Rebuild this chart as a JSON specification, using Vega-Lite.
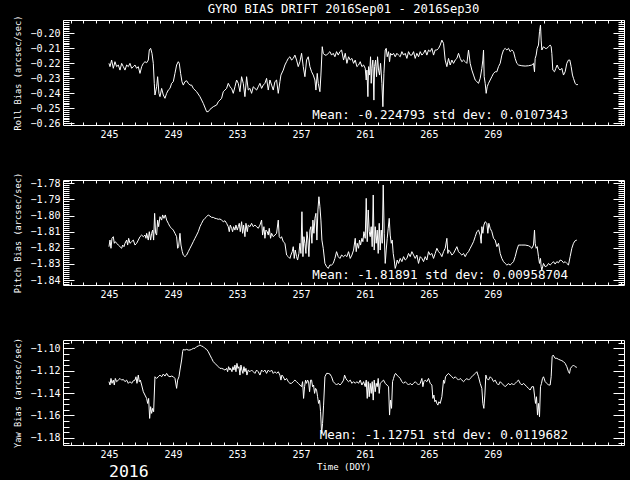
{
"$schema":"https://vega.github.io/schema/vega-lite/v6.json",
"background":"black",
"padding":{"left":13,"top":2,"right":5,"bottom":0},
"config":{
"view":{"stroke":"white","strokeWidth":1,"fill":"black"},
"axis":{"domain":false,"grid":false,"tickColor":"white","tickWidth":1,"labelColor":"white","labelFont":"DejaVu Sans Mono","labelFontSize":10,"titleColor":"white","titleFont":"DejaVu Sans Mono","titleFontSize":8.7,"titleFontWeight":"normal","labelFlush":false,"labelOverlap":false},
"title":{"color":"white","font":"DejaVu Sans Mono","fontSize":12.2,"fontWeight":"normal"},
"text":{"color":"white","font":"DejaVu Sans Mono"},
"line":{"color":"white","strokeWidth":1}
},
"datasets":{
"roll":[{"t":245.0,"v":-0.2201},{"t":245.063,"v":-0.2223},{"t":245.167,"v":-0.2179},{"t":245.271,"v":-0.2234},{"t":245.375,"v":-0.219},{"t":245.479,"v":-0.2223},{"t":245.583,"v":-0.2212},{"t":245.688,"v":-0.2246},{"t":245.792,"v":-0.2201},{"t":245.896,"v":-0.2223},{"t":246.0,"v":-0.2246},{"t":246.104,"v":-0.2212},{"t":246.208,"v":-0.2223},{"t":246.313,"v":-0.2201},{"t":246.417,"v":-0.2234},{"t":246.521,"v":-0.2223},{"t":246.625,"v":-0.2212},{"t":246.729,"v":-0.2234},{"t":246.833,"v":-0.2223},{"t":246.938,"v":-0.2268},{"t":247.042,"v":-0.2223},{"t":247.146,"v":-0.2201},{"t":247.25,"v":-0.219},{"t":247.354,"v":-0.2197},{"t":247.458,"v":-0.2179},{"t":247.521,"v":-0.2112},{"t":247.604,"v":-0.2101},{"t":247.688,"v":-0.2134},{"t":247.771,"v":-0.2201},{"t":247.833,"v":-0.2334},{"t":247.875,"v":-0.2412},{"t":247.979,"v":-0.2357},{"t":248.042,"v":-0.229},{"t":248.125,"v":-0.2401},{"t":248.188,"v":-0.2423},{"t":248.292,"v":-0.2368},{"t":248.396,"v":-0.2412},{"t":248.5,"v":-0.2434},{"t":248.604,"v":-0.2401},{"t":248.708,"v":-0.2379},{"t":248.813,"v":-0.2368},{"t":248.917,"v":-0.2334},{"t":249.021,"v":-0.2323},{"t":249.125,"v":-0.2268},{"t":249.229,"v":-0.2212},{"t":249.333,"v":-0.219},{"t":249.396,"v":-0.2201},{"t":249.479,"v":-0.2268},{"t":249.563,"v":-0.2323},{"t":249.646,"v":-0.2346},{"t":249.75,"v":-0.2323},{"t":249.854,"v":-0.2317},{"t":249.958,"v":-0.2334},{"t":250.063,"v":-0.2346},{"t":250.167,"v":-0.2346},{"t":250.271,"v":-0.2368},{"t":250.479,"v":-0.239},{"t":250.688,"v":-0.2423},{"t":250.896,"v":-0.2468},{"t":251.104,"v":-0.2523},{"t":251.208,"v":-0.2523},{"t":251.313,"v":-0.2508},{"t":251.521,"v":-0.249},{"t":251.729,"v":-0.2479},{"t":251.833,"v":-0.2457},{"t":251.938,"v":-0.2446},{"t":252.042,"v":-0.2434},{"t":252.146,"v":-0.239},{"t":252.25,"v":-0.2379},{"t":252.354,"v":-0.2368},{"t":252.458,"v":-0.2334},{"t":252.563,"v":-0.2357},{"t":252.667,"v":-0.2368},{"t":252.771,"v":-0.2401},{"t":252.875,"v":-0.2357},{"t":252.979,"v":-0.2312},{"t":253.083,"v":-0.2334},{"t":253.188,"v":-0.239},{"t":253.292,"v":-0.229},{"t":253.396,"v":-0.2334},{"t":253.5,"v":-0.2423},{"t":253.604,"v":-0.229},{"t":253.708,"v":-0.2379},{"t":253.813,"v":-0.2368},{"t":253.917,"v":-0.2401},{"t":254.021,"v":-0.2357},{"t":254.125,"v":-0.2368},{"t":254.229,"v":-0.2379},{"t":254.333,"v":-0.2357},{"t":254.438,"v":-0.2334},{"t":254.542,"v":-0.2368},{"t":254.646,"v":-0.2346},{"t":254.75,"v":-0.2334},{"t":254.854,"v":-0.2301},{"t":254.958,"v":-0.2379},{"t":255.063,"v":-0.2312},{"t":255.167,"v":-0.2346},{"t":255.271,"v":-0.2379},{"t":255.375,"v":-0.2323},{"t":255.479,"v":-0.2312},{"t":255.583,"v":-0.2401},{"t":255.688,"v":-0.2323},{"t":255.75,"v":-0.2279},{"t":255.896,"v":-0.2246},{"t":256.0,"v":-0.2212},{"t":256.104,"v":-0.219},{"t":256.208,"v":-0.2168},{"t":256.313,"v":-0.2157},{"t":256.417,"v":-0.2179},{"t":256.521,"v":-0.2168},{"t":256.625,"v":-0.2146},{"t":256.729,"v":-0.2179},{"t":256.833,"v":-0.2223},{"t":256.938,"v":-0.219},{"t":257.042,"v":-0.2134},{"t":257.146,"v":-0.2223},{"t":257.25,"v":-0.229},{"t":257.354,"v":-0.2179},{"t":257.458,"v":-0.2157},{"t":257.563,"v":-0.2223},{"t":257.667,"v":-0.2257},{"t":257.771,"v":-0.2279},{"t":257.875,"v":-0.2312},{"t":257.938,"v":-0.2379},{"t":258.021,"v":-0.2268},{"t":258.083,"v":-0.2334},{"t":258.188,"v":-0.239},{"t":258.25,"v":-0.2279},{"t":258.333,"v":-0.209},{"t":258.396,"v":-0.2134},{"t":258.5,"v":-0.2146},{"t":258.604,"v":-0.2146},{"t":258.708,"v":-0.2134},{"t":258.813,"v":-0.2123},{"t":258.917,"v":-0.2146},{"t":259.021,"v":-0.2134},{"t":259.125,"v":-0.2157},{"t":259.229,"v":-0.2123},{"t":259.333,"v":-0.2146},{"t":259.438,"v":-0.2123},{"t":259.542,"v":-0.2112},{"t":259.667,"v":-0.2179},{"t":259.771,"v":-0.2134},{"t":259.875,"v":-0.2201},{"t":259.979,"v":-0.2157},{"t":260.083,"v":-0.2179},{"t":260.188,"v":-0.2168},{"t":260.292,"v":-0.2201},{"t":260.396,"v":-0.2179},{"t":260.5,"v":-0.2223},{"t":260.604,"v":-0.2212},{"t":260.708,"v":-0.219},{"t":260.813,"v":-0.2223},{"t":260.917,"v":-0.2212},{"t":261.021,"v":-0.2234},{"t":261.083,"v":-0.2312},{"t":261.125,"v":-0.2246},{"t":261.188,"v":-0.2423},{"t":261.229,"v":-0.2223},{"t":261.292,"v":-0.2279},{"t":261.354,"v":-0.2157},{"t":261.396,"v":-0.2334},{"t":261.438,"v":-0.2234},{"t":261.5,"v":-0.2179},{"t":261.563,"v":-0.2446},{"t":261.604,"v":-0.2223},{"t":261.667,"v":-0.2179},{"t":261.729,"v":-0.229},{"t":261.792,"v":-0.2157},{"t":261.854,"v":-0.2246},{"t":261.917,"v":-0.2279},{"t":261.979,"v":-0.2201},{"t":262.063,"v":-0.2334},{"t":262.125,"v":-0.249},{"t":262.188,"v":-0.2268},{"t":262.271,"v":-0.2112},{"t":262.333,"v":-0.2101},{"t":262.396,"v":-0.2157},{"t":262.479,"v":-0.2123},{"t":262.542,"v":-0.219},{"t":262.604,"v":-0.2134},{"t":262.688,"v":-0.2146},{"t":262.792,"v":-0.2134},{"t":262.896,"v":-0.2157},{"t":263.0,"v":-0.2134},{"t":263.104,"v":-0.2146},{"t":263.208,"v":-0.2157},{"t":263.313,"v":-0.2123},{"t":263.417,"v":-0.2146},{"t":263.521,"v":-0.2134},{"t":263.625,"v":-0.2168},{"t":263.729,"v":-0.2123},{"t":263.833,"v":-0.2146},{"t":263.938,"v":-0.2146},{"t":264.042,"v":-0.2123},{"t":264.146,"v":-0.2168},{"t":264.25,"v":-0.2134},{"t":264.354,"v":-0.2157},{"t":264.458,"v":-0.2123},{"t":264.563,"v":-0.2146},{"t":264.667,"v":-0.2134},{"t":264.771,"v":-0.2112},{"t":264.875,"v":-0.2146},{"t":264.979,"v":-0.2112},{"t":265.083,"v":-0.2123},{"t":265.188,"v":-0.2101},{"t":265.292,"v":-0.2146},{"t":265.396,"v":-0.2112},{"t":265.5,"v":-0.2112},{"t":265.604,"v":-0.2101},{"t":265.708,"v":-0.2079},{"t":265.813,"v":-0.2046},{"t":265.917,"v":-0.2068},{"t":266.021,"v":-0.2179},{"t":266.125,"v":-0.2223},{"t":266.229,"v":-0.2168},{"t":266.333,"v":-0.2212},{"t":266.438,"v":-0.2179},{"t":266.542,"v":-0.2201},{"t":266.646,"v":-0.2179},{"t":266.75,"v":-0.2168},{"t":266.854,"v":-0.2134},{"t":266.958,"v":-0.2168},{"t":267.063,"v":-0.219},{"t":267.167,"v":-0.2179},{"t":267.271,"v":-0.219},{"t":267.375,"v":-0.2201},{"t":267.479,"v":-0.2112},{"t":267.583,"v":-0.2201},{"t":267.688,"v":-0.2246},{"t":267.792,"v":-0.2279},{"t":267.896,"v":-0.2312},{"t":268.0,"v":-0.2323},{"t":268.104,"v":-0.2334},{"t":268.208,"v":-0.2301},{"t":268.313,"v":-0.2234},{"t":268.375,"v":-0.2179},{"t":268.417,"v":-0.2112},{"t":268.458,"v":-0.229},{"t":268.521,"v":-0.2334},{"t":268.583,"v":-0.2401},{"t":268.646,"v":-0.2357},{"t":268.729,"v":-0.2334},{"t":268.833,"v":-0.2312},{"t":268.938,"v":-0.229},{"t":269.042,"v":-0.2268},{"t":269.146,"v":-0.2257},{"t":269.25,"v":-0.2257},{"t":269.354,"v":-0.2223},{"t":269.458,"v":-0.2201},{"t":269.563,"v":-0.2146},{"t":269.667,"v":-0.2112},{"t":269.771,"v":-0.2101},{"t":269.875,"v":-0.2112},{"t":269.979,"v":-0.2101},{"t":270.083,"v":-0.2123},{"t":270.188,"v":-0.2112},{"t":270.292,"v":-0.2123},{"t":270.396,"v":-0.2168},{"t":270.5,"v":-0.2201},{"t":270.604,"v":-0.2212},{"t":270.813,"v":-0.2217},{"t":271.021,"v":-0.2219},{"t":271.229,"v":-0.2217},{"t":271.438,"v":-0.2212},{"t":271.542,"v":-0.2201},{"t":271.604,"v":-0.2257},{"t":271.646,"v":-0.2168},{"t":271.708,"v":-0.2146},{"t":271.771,"v":-0.2101},{"t":271.854,"v":-0.2079},{"t":271.917,"v":-0.199},{"t":271.979,"v":-0.1946},{"t":272.021,"v":-0.2046},{"t":272.063,"v":-0.2112},{"t":272.167,"v":-0.209},{"t":272.271,"v":-0.2101},{"t":272.375,"v":-0.2101},{"t":272.479,"v":-0.209},{"t":272.583,"v":-0.2079},{"t":272.646,"v":-0.209},{"t":272.688,"v":-0.2134},{"t":272.75,"v":-0.2246},{"t":272.854,"v":-0.2257},{"t":272.938,"v":-0.2234},{"t":273.021,"v":-0.2212},{"t":273.104,"v":-0.2234},{"t":273.208,"v":-0.2246},{"t":273.313,"v":-0.2234},{"t":273.417,"v":-0.2279},{"t":273.521,"v":-0.2257},{"t":273.625,"v":-0.2201},{"t":273.729,"v":-0.2179},{"t":273.813,"v":-0.2179},{"t":273.896,"v":-0.2223},{"t":273.979,"v":-0.2279},{"t":274.042,"v":-0.2301},{"t":274.146,"v":-0.2334},{"t":274.25,"v":-0.2346},{"t":274.313,"v":-0.2339}],
"pitch":[{"t":245.0,"v":-1.8193},{"t":245.063,"v":-1.8152},{"t":245.125,"v":-1.8203},{"t":245.188,"v":-1.8141},{"t":245.271,"v":-1.8131},{"t":245.333,"v":-1.8172},{"t":245.396,"v":-1.8162},{"t":245.479,"v":-1.8172},{"t":245.583,"v":-1.8183},{"t":245.688,"v":-1.8193},{"t":245.792,"v":-1.8203},{"t":245.854,"v":-1.8183},{"t":245.938,"v":-1.8193},{"t":246.0,"v":-1.8172},{"t":246.104,"v":-1.8152},{"t":246.167,"v":-1.8183},{"t":246.229,"v":-1.8141},{"t":246.313,"v":-1.8172},{"t":246.417,"v":-1.8162},{"t":246.521,"v":-1.8152},{"t":246.625,"v":-1.8183},{"t":246.729,"v":-1.8172},{"t":246.833,"v":-1.8152},{"t":246.938,"v":-1.8131},{"t":247.042,"v":-1.8121},{"t":247.146,"v":-1.8131},{"t":247.25,"v":-1.8121},{"t":247.313,"v":-1.8141},{"t":247.354,"v":-1.811},{"t":247.458,"v":-1.8152},{"t":247.521,"v":-1.81},{"t":247.604,"v":-1.8152},{"t":247.667,"v":-1.811},{"t":247.729,"v":-1.809},{"t":247.792,"v":-1.8152},{"t":247.854,"v":-1.7986},{"t":247.917,"v":-1.811},{"t":247.979,"v":-1.8121},{"t":248.042,"v":-1.8028},{"t":248.104,"v":-1.8069},{"t":248.188,"v":-1.8007},{"t":248.292,"v":-1.8028},{"t":248.354,"v":-1.7996},{"t":248.438,"v":-1.8017},{"t":248.521,"v":-1.7996},{"t":248.604,"v":-1.8028},{"t":248.708,"v":-1.8048},{"t":248.813,"v":-1.8069},{"t":248.917,"v":-1.8079},{"t":249.021,"v":-1.809},{"t":249.125,"v":-1.811},{"t":249.229,"v":-1.8131},{"t":249.292,"v":-1.8203},{"t":249.354,"v":-1.8193},{"t":249.438,"v":-1.811},{"t":249.5,"v":-1.8183},{"t":249.583,"v":-1.8224},{"t":249.646,"v":-1.8245},{"t":249.75,"v":-1.8255},{"t":249.854,"v":-1.8245},{"t":249.958,"v":-1.8224},{"t":250.063,"v":-1.8203},{"t":250.167,"v":-1.8183},{"t":250.271,"v":-1.8162},{"t":250.375,"v":-1.8141},{"t":250.479,"v":-1.8121},{"t":250.583,"v":-1.81},{"t":250.688,"v":-1.8069},{"t":250.792,"v":-1.8048},{"t":250.896,"v":-1.8028},{"t":251.0,"v":-1.8017},{"t":251.104,"v":-1.8007},{"t":251.208,"v":-1.7996},{"t":251.313,"v":-1.8003},{"t":251.417,"v":-1.8011},{"t":251.521,"v":-1.8011},{"t":251.625,"v":-1.8017},{"t":251.729,"v":-1.8019},{"t":251.833,"v":-1.8023},{"t":251.938,"v":-1.8021},{"t":252.042,"v":-1.8028},{"t":252.146,"v":-1.8038},{"t":252.25,"v":-1.8032},{"t":252.354,"v":-1.8048},{"t":252.458,"v":-1.8069},{"t":252.521,"v":-1.81},{"t":252.583,"v":-1.8059},{"t":252.667,"v":-1.8079},{"t":252.729,"v":-1.81},{"t":252.792,"v":-1.8069},{"t":252.875,"v":-1.809},{"t":252.938,"v":-1.8059},{"t":253.021,"v":-1.809},{"t":253.083,"v":-1.8069},{"t":253.146,"v":-1.8048},{"t":253.208,"v":-1.81},{"t":253.292,"v":-1.8038},{"t":253.354,"v":-1.811},{"t":253.417,"v":-1.8059},{"t":253.5,"v":-1.8131},{"t":253.563,"v":-1.8048},{"t":253.646,"v":-1.81},{"t":253.708,"v":-1.8059},{"t":253.813,"v":-1.8069},{"t":253.917,"v":-1.8048},{"t":254.021,"v":-1.8069},{"t":254.125,"v":-1.8059},{"t":254.229,"v":-1.8069},{"t":254.333,"v":-1.8079},{"t":254.438,"v":-1.8059},{"t":254.542,"v":-1.8028},{"t":254.604,"v":-1.8121},{"t":254.688,"v":-1.8069},{"t":254.75,"v":-1.8141},{"t":254.813,"v":-1.809},{"t":254.896,"v":-1.81},{"t":254.958,"v":-1.8121},{"t":255.021,"v":-1.8079},{"t":255.104,"v":-1.8141},{"t":255.167,"v":-1.811},{"t":255.271,"v":-1.8131},{"t":255.375,"v":-1.8121},{"t":255.479,"v":-1.811},{"t":255.583,"v":-1.8028},{"t":255.646,"v":-1.8131},{"t":255.729,"v":-1.8141},{"t":255.792,"v":-1.8131},{"t":255.896,"v":-1.8162},{"t":256.0,"v":-1.8172},{"t":256.104,"v":-1.8245},{"t":256.208,"v":-1.8255},{"t":256.313,"v":-1.8266},{"t":256.375,"v":-1.8245},{"t":256.458,"v":-1.8224},{"t":256.521,"v":-1.8193},{"t":256.583,"v":-1.8266},{"t":256.646,"v":-1.8214},{"t":256.729,"v":-1.8255},{"t":256.792,"v":-1.8276},{"t":256.875,"v":-1.8235},{"t":256.938,"v":-1.8172},{"t":257.0,"v":-1.8235},{"t":257.063,"v":-1.7976},{"t":257.125,"v":-1.8255},{"t":257.188,"v":-1.8131},{"t":257.25,"v":-1.8172},{"t":257.313,"v":-1.8235},{"t":257.375,"v":-1.81},{"t":257.438,"v":-1.8152},{"t":257.5,"v":-1.8255},{"t":257.563,"v":-1.809},{"t":257.625,"v":-1.8069},{"t":257.688,"v":-1.8172},{"t":257.75,"v":-1.8028},{"t":257.813,"v":-1.811},{"t":257.875,"v":-1.8017},{"t":257.938,"v":-1.7986},{"t":258.0,"v":-1.8152},{"t":258.063,"v":-1.7965},{"t":258.125,"v":-1.7883},{"t":258.188,"v":-1.7945},{"t":258.25,"v":-1.8028},{"t":258.313,"v":-1.8152},{"t":258.396,"v":-1.8203},{"t":258.5,"v":-1.8297},{"t":258.604,"v":-1.8317},{"t":258.708,"v":-1.8328},{"t":258.813,"v":-1.8307},{"t":258.917,"v":-1.8307},{"t":259.021,"v":-1.8297},{"t":259.125,"v":-1.8266},{"t":259.229,"v":-1.8224},{"t":259.333,"v":-1.8255},{"t":259.438,"v":-1.8266},{"t":259.542,"v":-1.8245},{"t":259.667,"v":-1.8255},{"t":259.771,"v":-1.8245},{"t":259.875,"v":-1.8255},{"t":259.979,"v":-1.8224},{"t":260.083,"v":-1.8266},{"t":260.188,"v":-1.8245},{"t":260.292,"v":-1.8214},{"t":260.396,"v":-1.8141},{"t":260.458,"v":-1.8224},{"t":260.521,"v":-1.8172},{"t":260.604,"v":-1.8203},{"t":260.667,"v":-1.8152},{"t":260.729,"v":-1.8183},{"t":260.813,"v":-1.8141},{"t":260.875,"v":-1.8162},{"t":260.938,"v":-1.81},{"t":261.021,"v":-1.8141},{"t":261.083,"v":-1.7893},{"t":261.146,"v":-1.8162},{"t":261.208,"v":-1.7965},{"t":261.271,"v":-1.81},{"t":261.333,"v":-1.8131},{"t":261.396,"v":-1.8069},{"t":261.458,"v":-1.8193},{"t":261.521,"v":-1.7872},{"t":261.583,"v":-1.8214},{"t":261.646,"v":-1.8069},{"t":261.708,"v":-1.8172},{"t":261.771,"v":-1.809},{"t":261.833,"v":-1.8235},{"t":261.896,"v":-1.8048},{"t":261.958,"v":-1.8214},{"t":262.021,"v":-1.809},{"t":262.083,"v":-1.8172},{"t":262.146,"v":-1.781},{"t":262.208,"v":-1.811},{"t":262.271,"v":-1.8297},{"t":262.333,"v":-1.8214},{"t":262.396,"v":-1.8141},{"t":262.458,"v":-1.8079},{"t":262.521,"v":-1.8017},{"t":262.583,"v":-1.8121},{"t":262.646,"v":-1.8172},{"t":262.708,"v":-1.8152},{"t":262.771,"v":-1.8235},{"t":262.833,"v":-1.8276},{"t":262.896,"v":-1.8328},{"t":262.958,"v":-1.8307},{"t":263.021,"v":-1.8276},{"t":263.104,"v":-1.8297},{"t":263.208,"v":-1.8266},{"t":263.313,"v":-1.8286},{"t":263.417,"v":-1.8255},{"t":263.521,"v":-1.8276},{"t":263.625,"v":-1.8266},{"t":263.729,"v":-1.8235},{"t":263.833,"v":-1.8255},{"t":263.938,"v":-1.8224},{"t":264.042,"v":-1.8245},{"t":264.146,"v":-1.8266},{"t":264.25,"v":-1.8245},{"t":264.354,"v":-1.8297},{"t":264.458,"v":-1.8255},{"t":264.563,"v":-1.8266},{"t":264.667,"v":-1.8286},{"t":264.771,"v":-1.8255},{"t":264.875,"v":-1.8276},{"t":264.979,"v":-1.8224},{"t":265.083,"v":-1.8245},{"t":265.188,"v":-1.8235},{"t":265.292,"v":-1.8266},{"t":265.396,"v":-1.8235},{"t":265.5,"v":-1.8203},{"t":265.604,"v":-1.8224},{"t":265.708,"v":-1.8235},{"t":265.813,"v":-1.8255},{"t":265.917,"v":-1.8224},{"t":266.021,"v":-1.8203},{"t":266.125,"v":-1.8141},{"t":266.188,"v":-1.8235},{"t":266.229,"v":-1.8214},{"t":266.333,"v":-1.8224},{"t":266.438,"v":-1.8245},{"t":266.542,"v":-1.8235},{"t":266.646,"v":-1.8214},{"t":266.75,"v":-1.8193},{"t":266.854,"v":-1.8224},{"t":266.958,"v":-1.8235},{"t":267.063,"v":-1.8245},{"t":267.167,"v":-1.8235},{"t":267.271,"v":-1.8255},{"t":267.375,"v":-1.8235},{"t":267.479,"v":-1.8224},{"t":267.583,"v":-1.8203},{"t":267.688,"v":-1.8183},{"t":267.792,"v":-1.8162},{"t":267.896,"v":-1.8131},{"t":268.0,"v":-1.81},{"t":268.104,"v":-1.809},{"t":268.208,"v":-1.8121},{"t":268.271,"v":-1.8172},{"t":268.313,"v":-1.8069},{"t":268.375,"v":-1.811},{"t":268.438,"v":-1.8059},{"t":268.521,"v":-1.8038},{"t":268.625,"v":-1.8048},{"t":268.688,"v":-1.811},{"t":268.75,"v":-1.8048},{"t":268.833,"v":-1.8079},{"t":268.938,"v":-1.81},{"t":269.042,"v":-1.8141},{"t":269.146,"v":-1.8152},{"t":269.25,"v":-1.8193},{"t":269.354,"v":-1.8172},{"t":269.458,"v":-1.8235},{"t":269.563,"v":-1.8266},{"t":269.667,"v":-1.8286},{"t":269.771,"v":-1.8297},{"t":269.875,"v":-1.8307},{"t":269.979,"v":-1.8301},{"t":270.083,"v":-1.8307},{"t":270.188,"v":-1.8297},{"t":270.292,"v":-1.8286},{"t":270.396,"v":-1.8255},{"t":270.5,"v":-1.8214},{"t":270.604,"v":-1.8183},{"t":270.813,"v":-1.8183},{"t":271.021,"v":-1.8183},{"t":271.229,"v":-1.8187},{"t":271.333,"v":-1.8193},{"t":271.438,"v":-1.8203},{"t":271.542,"v":-1.8183},{"t":271.604,"v":-1.809},{"t":271.646,"v":-1.8172},{"t":271.708,"v":-1.8203},{"t":271.771,"v":-1.8193},{"t":271.854,"v":-1.8255},{"t":271.917,"v":-1.8297},{"t":271.979,"v":-1.8266},{"t":272.021,"v":-1.8317},{"t":272.063,"v":-1.8338},{"t":272.167,"v":-1.8297},{"t":272.271,"v":-1.8317},{"t":272.375,"v":-1.8313},{"t":272.479,"v":-1.8297},{"t":272.583,"v":-1.8307},{"t":272.688,"v":-1.8297},{"t":272.792,"v":-1.8286},{"t":272.896,"v":-1.8301},{"t":273.0,"v":-1.8286},{"t":273.104,"v":-1.8293},{"t":273.208,"v":-1.8276},{"t":273.313,"v":-1.828},{"t":273.417,"v":-1.8293},{"t":273.521,"v":-1.8286},{"t":273.625,"v":-1.8297},{"t":273.729,"v":-1.8307},{"t":273.833,"v":-1.8255},{"t":273.938,"v":-1.8203},{"t":274.042,"v":-1.8172},{"t":274.146,"v":-1.8156},{"t":274.25,"v":-1.8152}],
"yaw":[{"t":245.0,"v":-1.1298},{"t":245.063,"v":-1.1328},{"t":245.125,"v":-1.1269},{"t":245.188,"v":-1.1313},{"t":245.271,"v":-1.1284},{"t":245.333,"v":-1.1328},{"t":245.396,"v":-1.1269},{"t":245.479,"v":-1.1298},{"t":245.583,"v":-1.1284},{"t":245.688,"v":-1.1269},{"t":245.792,"v":-1.1284},{"t":245.896,"v":-1.1278},{"t":246.0,"v":-1.1298},{"t":246.104,"v":-1.1284},{"t":246.208,"v":-1.1313},{"t":246.313,"v":-1.1298},{"t":246.417,"v":-1.1313},{"t":246.521,"v":-1.129},{"t":246.625,"v":-1.1284},{"t":246.688,"v":-1.1254},{"t":246.75,"v":-1.1313},{"t":246.833,"v":-1.1239},{"t":246.896,"v":-1.1298},{"t":246.958,"v":-1.1284},{"t":247.042,"v":-1.1328},{"t":247.146,"v":-1.1388},{"t":247.25,"v":-1.1418},{"t":247.354,"v":-1.1448},{"t":247.417,"v":-1.1493},{"t":247.479,"v":-1.1448},{"t":247.542,"v":-1.1627},{"t":247.604,"v":-1.1522},{"t":247.667,"v":-1.1582},{"t":247.729,"v":-1.1537},{"t":247.792,"v":-1.1567},{"t":247.875,"v":-1.1254},{"t":247.979,"v":-1.1269},{"t":248.083,"v":-1.1254},{"t":248.188,"v":-1.1239},{"t":248.292,"v":-1.1254},{"t":248.396,"v":-1.123},{"t":248.5,"v":-1.1248},{"t":248.604,"v":-1.1224},{"t":248.708,"v":-1.1248},{"t":248.813,"v":-1.1254},{"t":248.917,"v":-1.1248},{"t":249.021,"v":-1.1254},{"t":249.125,"v":-1.1269},{"t":249.229,"v":-1.1358},{"t":249.292,"v":-1.1284},{"t":249.375,"v":-1.1254},{"t":249.438,"v":-1.1194},{"t":249.542,"v":-1.1104},{"t":249.604,"v":-1.103},{"t":249.646,"v":-1.1009},{"t":249.75,"v":-1.1015},{"t":249.854,"v":-1.1009},{"t":249.958,"v":-1.1015},{"t":250.063,"v":-1.1015},{"t":250.167,"v":-1.1009},{"t":250.271,"v":-1.1},{"t":250.375,"v":-1.1},{"t":250.479,"v":-1.0985},{"t":250.583,"v":-1.0979},{"t":250.688,"v":-1.097},{"t":250.792,"v":-1.0979},{"t":250.896,"v":-1.0985},{"t":251.0,"v":-1.1},{"t":251.104,"v":-1.1009},{"t":251.208,"v":-1.103},{"t":251.313,"v":-1.106},{"t":251.417,"v":-1.1089},{"t":251.521,"v":-1.1119},{"t":251.625,"v":-1.1134},{"t":251.729,"v":-1.1149},{"t":251.833,"v":-1.1164},{"t":251.938,"v":-1.1179},{"t":252.042,"v":-1.1179},{"t":252.146,"v":-1.1185},{"t":252.25,"v":-1.1194},{"t":252.354,"v":-1.1179},{"t":252.417,"v":-1.1209},{"t":252.479,"v":-1.1164},{"t":252.563,"v":-1.1194},{"t":252.604,"v":-1.1179},{"t":252.688,"v":-1.1209},{"t":252.75,"v":-1.1164},{"t":252.813,"v":-1.1194},{"t":252.875,"v":-1.1149},{"t":252.938,"v":-1.1209},{"t":253.0,"v":-1.1134},{"t":253.063,"v":-1.1179},{"t":253.125,"v":-1.1164},{"t":253.188,"v":-1.1239},{"t":253.25,"v":-1.1149},{"t":253.313,"v":-1.1194},{"t":253.375,"v":-1.1224},{"t":253.438,"v":-1.1164},{"t":253.5,"v":-1.1209},{"t":253.563,"v":-1.1179},{"t":253.625,"v":-1.1239},{"t":253.708,"v":-1.1194},{"t":253.813,"v":-1.1209},{"t":253.917,"v":-1.1194},{"t":254.021,"v":-1.1209},{"t":254.125,"v":-1.1224},{"t":254.229,"v":-1.1194},{"t":254.333,"v":-1.1209},{"t":254.438,"v":-1.1239},{"t":254.542,"v":-1.1194},{"t":254.646,"v":-1.1209},{"t":254.75,"v":-1.1194},{"t":254.854,"v":-1.1224},{"t":254.958,"v":-1.1194},{"t":255.063,"v":-1.1209},{"t":255.167,"v":-1.1194},{"t":255.271,"v":-1.1224},{"t":255.375,"v":-1.1209},{"t":255.479,"v":-1.1224},{"t":255.583,"v":-1.1209},{"t":255.688,"v":-1.1239},{"t":255.75,"v":-1.1284},{"t":255.813,"v":-1.1239},{"t":255.896,"v":-1.1254},{"t":256.0,"v":-1.1284},{"t":256.104,"v":-1.1269},{"t":256.208,"v":-1.1298},{"t":256.313,"v":-1.1313},{"t":256.417,"v":-1.1313},{"t":256.521,"v":-1.1298},{"t":256.625,"v":-1.1284},{"t":256.729,"v":-1.1298},{"t":256.833,"v":-1.1313},{"t":256.938,"v":-1.1328},{"t":257.042,"v":-1.1343},{"t":257.104,"v":-1.1298},{"t":257.167,"v":-1.1448},{"t":257.229,"v":-1.1343},{"t":257.292,"v":-1.1284},{"t":257.354,"v":-1.1313},{"t":257.417,"v":-1.1284},{"t":257.479,"v":-1.1298},{"t":257.542,"v":-1.1388},{"t":257.604,"v":-1.1284},{"t":257.667,"v":-1.1284},{"t":257.729,"v":-1.1343},{"t":257.792,"v":-1.1328},{"t":257.854,"v":-1.1403},{"t":257.917,"v":-1.1358},{"t":257.979,"v":-1.1373},{"t":258.042,"v":-1.1433},{"t":258.104,"v":-1.1493},{"t":258.167,"v":-1.1463},{"t":258.229,"v":-1.1567},{"t":258.292,"v":-1.1762},{"t":258.354,"v":-1.1672},{"t":258.417,"v":-1.1508},{"t":258.5,"v":-1.1254},{"t":258.604,"v":-1.1224},{"t":258.708,"v":-1.1224},{"t":258.813,"v":-1.123},{"t":258.917,"v":-1.1254},{"t":259.021,"v":-1.1298},{"t":259.125,"v":-1.1313},{"t":259.229,"v":-1.1328},{"t":259.333,"v":-1.1313},{"t":259.438,"v":-1.1328},{"t":259.542,"v":-1.1313},{"t":259.667,"v":-1.1284},{"t":259.729,"v":-1.1239},{"t":259.813,"v":-1.1269},{"t":259.875,"v":-1.1284},{"t":259.979,"v":-1.1298},{"t":260.083,"v":-1.1284},{"t":260.188,"v":-1.1313},{"t":260.292,"v":-1.1298},{"t":260.396,"v":-1.1313},{"t":260.5,"v":-1.1298},{"t":260.604,"v":-1.1313},{"t":260.708,"v":-1.1284},{"t":260.813,"v":-1.1328},{"t":260.917,"v":-1.1298},{"t":261.021,"v":-1.1343},{"t":261.083,"v":-1.1284},{"t":261.146,"v":-1.1448},{"t":261.208,"v":-1.1298},{"t":261.271,"v":-1.1433},{"t":261.333,"v":-1.1313},{"t":261.396,"v":-1.1403},{"t":261.458,"v":-1.1298},{"t":261.521,"v":-1.1463},{"t":261.583,"v":-1.1284},{"t":261.646,"v":-1.1388},{"t":261.708,"v":-1.1313},{"t":261.771,"v":-1.1343},{"t":261.833,"v":-1.1269},{"t":261.896,"v":-1.1403},{"t":261.958,"v":-1.1313},{"t":262.063,"v":-1.1298},{"t":262.167,"v":-1.1284},{"t":262.271,"v":-1.1313},{"t":262.375,"v":-1.1328},{"t":262.479,"v":-1.1343},{"t":262.542,"v":-1.1597},{"t":262.604,"v":-1.1463},{"t":262.667,"v":-1.1537},{"t":262.729,"v":-1.1298},{"t":262.792,"v":-1.1269},{"t":262.854,"v":-1.1239},{"t":262.917,"v":-1.1224},{"t":263.0,"v":-1.1239},{"t":263.104,"v":-1.1254},{"t":263.208,"v":-1.1269},{"t":263.313,"v":-1.1298},{"t":263.417,"v":-1.1313},{"t":263.521,"v":-1.1298},{"t":263.625,"v":-1.1313},{"t":263.729,"v":-1.1328},{"t":263.833,"v":-1.1313},{"t":263.938,"v":-1.1328},{"t":264.042,"v":-1.1313},{"t":264.146,"v":-1.1298},{"t":264.25,"v":-1.1313},{"t":264.354,"v":-1.1328},{"t":264.458,"v":-1.1313},{"t":264.563,"v":-1.1269},{"t":264.625,"v":-1.1343},{"t":264.688,"v":-1.1298},{"t":264.771,"v":-1.1284},{"t":264.875,"v":-1.1298},{"t":264.979,"v":-1.1269},{"t":265.083,"v":-1.1313},{"t":265.188,"v":-1.1328},{"t":265.25,"v":-1.1448},{"t":265.313,"v":-1.1418},{"t":265.375,"v":-1.1478},{"t":265.438,"v":-1.1463},{"t":265.5,"v":-1.1493},{"t":265.563,"v":-1.1508},{"t":265.625,"v":-1.1478},{"t":265.708,"v":-1.1493},{"t":265.813,"v":-1.1433},{"t":265.917,"v":-1.1284},{"t":265.979,"v":-1.1313},{"t":266.042,"v":-1.1254},{"t":266.125,"v":-1.1239},{"t":266.229,"v":-1.1224},{"t":266.333,"v":-1.1239},{"t":266.438,"v":-1.1254},{"t":266.542,"v":-1.1269},{"t":266.646,"v":-1.1254},{"t":266.75,"v":-1.1269},{"t":266.854,"v":-1.1284},{"t":266.958,"v":-1.1269},{"t":267.063,"v":-1.1284},{"t":267.167,"v":-1.1298},{"t":267.271,"v":-1.1284},{"t":267.375,"v":-1.1269},{"t":267.479,"v":-1.1284},{"t":267.583,"v":-1.1269},{"t":267.688,"v":-1.1254},{"t":267.792,"v":-1.1239},{"t":267.896,"v":-1.1224},{"t":268.0,"v":-1.1209},{"t":268.104,"v":-1.1254},{"t":268.208,"v":-1.1313},{"t":268.313,"v":-1.1358},{"t":268.375,"v":-1.1493},{"t":268.438,"v":-1.1537},{"t":268.5,"v":-1.1418},{"t":268.563,"v":-1.1239},{"t":268.625,"v":-1.1269},{"t":268.729,"v":-1.1284},{"t":268.833,"v":-1.1254},{"t":268.938,"v":-1.1269},{"t":269.042,"v":-1.1298},{"t":269.146,"v":-1.1284},{"t":269.25,"v":-1.1313},{"t":269.354,"v":-1.1328},{"t":269.458,"v":-1.1298},{"t":269.563,"v":-1.1313},{"t":269.667,"v":-1.1328},{"t":269.771,"v":-1.1343},{"t":269.875,"v":-1.1328},{"t":269.979,"v":-1.1313},{"t":270.083,"v":-1.1328},{"t":270.188,"v":-1.1313},{"t":270.292,"v":-1.1328},{"t":270.396,"v":-1.1313},{"t":270.5,"v":-1.1298},{"t":270.604,"v":-1.1284},{"t":270.708,"v":-1.1313},{"t":270.813,"v":-1.1328},{"t":270.917,"v":-1.1313},{"t":271.021,"v":-1.1328},{"t":271.125,"v":-1.1343},{"t":271.229,"v":-1.1358},{"t":271.333,"v":-1.1373},{"t":271.438,"v":-1.1343},{"t":271.542,"v":-1.1343},{"t":271.604,"v":-1.1418},{"t":271.667,"v":-1.1493},{"t":271.729,"v":-1.1433},{"t":271.792,"v":-1.1597},{"t":271.854,"v":-1.1493},{"t":271.917,"v":-1.1612},{"t":271.979,"v":-1.1343},{"t":272.042,"v":-1.1313},{"t":272.104,"v":-1.1269},{"t":272.167,"v":-1.1254},{"t":272.271,"v":-1.1298},{"t":272.375,"v":-1.1313},{"t":272.479,"v":-1.1328},{"t":272.583,"v":-1.1328},{"t":272.646,"v":-1.1254},{"t":272.708,"v":-1.1074},{"t":272.771,"v":-1.106},{"t":272.896,"v":-1.1089},{"t":273.0,"v":-1.1089},{"t":273.104,"v":-1.1098},{"t":273.208,"v":-1.1104},{"t":273.313,"v":-1.111},{"t":273.417,"v":-1.1119},{"t":273.521,"v":-1.1134},{"t":273.625,"v":-1.1164},{"t":273.729,"v":-1.1209},{"t":273.792,"v":-1.1224},{"t":273.854,"v":-1.1179},{"t":273.938,"v":-1.1164},{"t":274.042,"v":-1.1149},{"t":274.146,"v":-1.1164},{"t":274.25,"v":-1.117}]
},
"spacing":55,
"bounds":"flush",
"vconcat":[
{"width":561,"height":105,
"title":{"text":"GYRO BIAS DRIFT 2016Sep01 - 2016Sep30","anchor":"middle","frame":"group","offset":0},
"resolve":{"axis":{"x":"independent","y":"independent"}},
"layer":[
{"data":{"name":"roll"},"mark":{"type":"line","clip":true},
"encoding":{"x":{"field":"t","type":"quantitative","scale":{"domain":[242.125,277.2],"nice":false,"zero":false},"axis":{"orient":"bottom","values":[245,249,253,257,261,265,269],"format":"d","ticks":false,"labelPadding":4.5,"title":null}},
"y":{"field":"v","type":"quantitative","scale":{"domain":[-0.2612,-0.1912],"nice":false,"zero":false},"axis":{"orient":"left","values":[-0.26,-0.25,-0.24,-0.23,-0.22,-0.21,-0.2],"format":".2f","ticks":false,"labelPadding":3,"title":"Roll Bias (arcsec/sec)","titlePadding":7}}}},
{"data":{"name":"roll"},"mark":{"type":"line","strokeOpacity":0},
"encoding":{"x":{"field":"t","type":"quantitative","axis":{"orient":"bottom","values":[242.6,243.4,244.2,245,245.8,246.6,247.4,248.2,249,249.8,250.6,251.4,252.2,253,253.8,254.6,255.4,256.2,257,257.8,258.6,259.4,260.2,261,261.8,262.6,263.4,264.2,265,265.8,266.6,267.4,268.2,269,269.8,270.6,271.4,272.2,273,273.8,274.6,275.4,276.2,277],"labels":false,"tickSize":-3,"title":null}},
"y":{"field":"v","type":"quantitative","axis":{"orient":"left","values":[-0.26,-0.25,-0.24,-0.23,-0.22,-0.21,-0.2],"labels":false,"tickSize":-11,"title":null}}}},
{"data":{"name":"roll"},"mark":{"type":"line","strokeOpacity":0},
"encoding":{"x":{"field":"t","type":"quantitative","axis":{"orient":"top","values":[242.6,243.4,244.2,245,245.8,246.6,247.4,248.2,249,249.8,250.6,251.4,252.2,253,253.8,254.6,255.4,256.2,257,257.8,258.6,259.4,260.2,261,261.8,262.6,263.4,264.2,265,265.8,266.6,267.4,268.2,269,269.8,270.6,271.4,272.2,273,273.8,274.6,275.4,276.2,277],"labels":false,"tickSize":-3,"title":null}},
"y":{"field":"v","type":"quantitative","axis":{"orient":"left","values":[-0.26,-0.25875,-0.2575,-0.25625,-0.255,-0.25375,-0.2525,-0.25125,-0.25,-0.24875,-0.2475,-0.24625,-0.245,-0.24375,-0.2425,-0.24125,-0.24,-0.23875,-0.2375,-0.23625,-0.235,-0.23375,-0.2325,-0.23125,-0.23,-0.22875,-0.2275,-0.22625,-0.225,-0.22375,-0.2225,-0.22125,-0.22,-0.21875,-0.2175,-0.21625,-0.215,-0.21375,-0.2125,-0.21125,-0.21,-0.20875,-0.2075,-0.20625,-0.205,-0.20375,-0.2025,-0.20125,-0.2,-0.19875,-0.1975,-0.19625,-0.195,-0.19375,-0.1925,-0.19125],"labels":false,"tickSize":-6,"title":null}}}},
{"data":{"name":"roll"},"mark":{"type":"line","strokeOpacity":0},
"encoding":{"x":{"field":"t","type":"quantitative","axis":null},
"y":{"field":"v","type":"quantitative","axis":{"orient":"right","values":[-0.26,-0.25,-0.24,-0.23,-0.22,-0.21,-0.2],"labels":false,"tickSize":-11,"title":null}}}},
{"data":{"name":"roll"},"mark":{"type":"line","strokeOpacity":0},
"encoding":{"x":{"field":"t","type":"quantitative","axis":null},
"y":{"field":"v","type":"quantitative","axis":{"orient":"right","values":[-0.26,-0.25875,-0.2575,-0.25625,-0.255,-0.25375,-0.2525,-0.25125,-0.25,-0.24875,-0.2475,-0.24625,-0.245,-0.24375,-0.2425,-0.24125,-0.24,-0.23875,-0.2375,-0.23625,-0.235,-0.23375,-0.2325,-0.23125,-0.23,-0.22875,-0.2275,-0.22625,-0.225,-0.22375,-0.2225,-0.22125,-0.22,-0.21875,-0.2175,-0.21625,-0.215,-0.21375,-0.2125,-0.21125,-0.21,-0.20875,-0.2075,-0.20625,-0.205,-0.20375,-0.2025,-0.20125,-0.2,-0.19875,-0.1975,-0.19625,-0.195,-0.19375,-0.1925,-0.19125],"labels":false,"tickSize":-6,"title":null}}}},
{"data":{"values":[{}]},"mark":{"type":"text","align":"right","baseline":"alphabetic","fontSize":12.5,"text":"Mean: -0.224793 std dev: 0.0107343"},
"encoding":{"x":{"datum":273.7,"type":"quantitative","axis":null},"y":{"datum":-0.2572,"type":"quantitative","axis":null}}}
]},
{"width":561,"height":105,
"resolve":{"axis":{"x":"independent","y":"independent"}},
"layer":[
{"data":{"name":"pitch"},"mark":{"type":"line","clip":true},
"encoding":{"x":{"field":"t","type":"quantitative","scale":{"domain":[242.125,277.2],"nice":false,"zero":false},"axis":{"orient":"bottom","values":[245,249,253,257,261,265,269],"format":"d","ticks":false,"labelPadding":4.5,"title":null}},
"y":{"field":"v","type":"quantitative","scale":{"domain":[-1.8431,-1.7779],"nice":false,"zero":false},"axis":{"orient":"left","values":[-1.84,-1.83,-1.82,-1.81,-1.8,-1.79,-1.78],"format":".2f","ticks":false,"labelPadding":3,"title":"Pitch Bias (arcsec/sec)","titlePadding":7}}}},
{"data":{"name":"pitch"},"mark":{"type":"line","strokeOpacity":0},
"encoding":{"x":{"field":"t","type":"quantitative","axis":{"orient":"bottom","values":[242.6,243.4,244.2,245,245.8,246.6,247.4,248.2,249,249.8,250.6,251.4,252.2,253,253.8,254.6,255.4,256.2,257,257.8,258.6,259.4,260.2,261,261.8,262.6,263.4,264.2,265,265.8,266.6,267.4,268.2,269,269.8,270.6,271.4,272.2,273,273.8,274.6,275.4,276.2,277],"labels":false,"tickSize":-3,"title":null}},
"y":{"field":"v","type":"quantitative","axis":{"orient":"left","values":[-1.84,-1.83,-1.82,-1.81,-1.8,-1.79,-1.78],"labels":false,"tickSize":-11,"title":null}}}},
{"data":{"name":"pitch"},"mark":{"type":"line","strokeOpacity":0},
"encoding":{"x":{"field":"t","type":"quantitative","axis":{"orient":"top","values":[242.6,243.4,244.2,245,245.8,246.6,247.4,248.2,249,249.8,250.6,251.4,252.2,253,253.8,254.6,255.4,256.2,257,257.8,258.6,259.4,260.2,261,261.8,262.6,263.4,264.2,265,265.8,266.6,267.4,268.2,269,269.8,270.6,271.4,272.2,273,273.8,274.6,275.4,276.2,277],"labels":false,"tickSize":-3,"title":null}},
"y":{"field":"v","type":"quantitative","axis":{"orient":"left","values":[-1.8425,-1.84125,-1.84,-1.83875,-1.8375,-1.83625,-1.835,-1.83375,-1.8325,-1.83125,-1.83,-1.82875,-1.8275,-1.82625,-1.825,-1.82375,-1.8225,-1.82125,-1.82,-1.81875,-1.8175,-1.81625,-1.815,-1.81375,-1.8125,-1.81125,-1.81,-1.80875,-1.8075,-1.80625,-1.805,-1.80375,-1.8025,-1.80125,-1.8,-1.79875,-1.7975,-1.79625,-1.795,-1.79375,-1.7925,-1.79125,-1.79,-1.78875,-1.7875,-1.78625,-1.785,-1.78375,-1.7825,-1.78125,-1.78,-1.77875],"labels":false,"tickSize":-6,"title":null}}}},
{"data":{"name":"pitch"},"mark":{"type":"line","strokeOpacity":0},
"encoding":{"x":{"field":"t","type":"quantitative","axis":null},
"y":{"field":"v","type":"quantitative","axis":{"orient":"right","values":[-1.84,-1.83,-1.82,-1.81,-1.8,-1.79,-1.78],"labels":false,"tickSize":-11,"title":null}}}},
{"data":{"name":"pitch"},"mark":{"type":"line","strokeOpacity":0},
"encoding":{"x":{"field":"t","type":"quantitative","axis":null},
"y":{"field":"v","type":"quantitative","axis":{"orient":"right","values":[-1.8425,-1.84125,-1.84,-1.83875,-1.8375,-1.83625,-1.835,-1.83375,-1.8325,-1.83125,-1.83,-1.82875,-1.8275,-1.82625,-1.825,-1.82375,-1.8225,-1.82125,-1.82,-1.81875,-1.8175,-1.81625,-1.815,-1.81375,-1.8125,-1.81125,-1.81,-1.80875,-1.8075,-1.80625,-1.805,-1.80375,-1.8025,-1.80125,-1.8,-1.79875,-1.7975,-1.79625,-1.795,-1.79375,-1.7925,-1.79125,-1.79,-1.78875,-1.7875,-1.78625,-1.785,-1.78375,-1.7825,-1.78125,-1.78,-1.77875],"labels":false,"tickSize":-6,"title":null}}}},
{"data":{"values":[{}]},"mark":{"type":"text","align":"right","baseline":"alphabetic","fontSize":12.5,"text":"Mean: -1.81891 std dev: 0.00958704"},
"encoding":{"x":{"datum":273.7,"type":"quantitative","axis":null},"y":{"datum":-1.8394,"type":"quantitative","axis":null}}}
]},
{"width":561,"height":105,
"resolve":{"axis":{"x":"independent","y":"independent"}},
"layer":[
{"data":{"name":"yaw"},"mark":{"type":"line","clip":true},
"encoding":{"x":{"field":"t","type":"quantitative","scale":{"domain":[242.125,277.2],"nice":false,"zero":false},"axis":{"orient":"bottom","values":[245,249,253,257,261,265,269],"format":"d","ticks":false,"labelPadding":4.5,"title":"Time (DOY)","titleFontSize":9,"titlePadding":2.5}},
"y":{"field":"v","type":"quantitative","scale":{"domain":[-1.1865,-1.0925],"nice":false,"zero":false},"axis":{"orient":"left","values":[-1.18,-1.16,-1.14,-1.12,-1.1],"format":".2f","ticks":false,"labelPadding":3,"title":"Yaw Bias (arcsec/sec)","titlePadding":7}}}},
{"data":{"name":"yaw"},"mark":{"type":"line","strokeOpacity":0},
"encoding":{"x":{"field":"t","type":"quantitative","axis":{"orient":"bottom","values":[242.6,243.4,244.2,245,245.8,246.6,247.4,248.2,249,249.8,250.6,251.4,252.2,253,253.8,254.6,255.4,256.2,257,257.8,258.6,259.4,260.2,261,261.8,262.6,263.4,264.2,265,265.8,266.6,267.4,268.2,269,269.8,270.6,271.4,272.2,273,273.8,274.6,275.4,276.2,277],"labels":false,"tickSize":-3,"title":null}},
"y":{"field":"v","type":"quantitative","axis":{"orient":"left","values":[-1.18,-1.16,-1.14,-1.12,-1.1],"labels":false,"tickSize":-11,"title":null}}}},
{"data":{"name":"yaw"},"mark":{"type":"line","strokeOpacity":0},
"encoding":{"x":{"field":"t","type":"quantitative","axis":{"orient":"top","values":[242.6,243.4,244.2,245,245.8,246.6,247.4,248.2,249,249.8,250.6,251.4,252.2,253,253.8,254.6,255.4,256.2,257,257.8,258.6,259.4,260.2,261,261.8,262.6,263.4,264.2,265,265.8,266.6,267.4,268.2,269,269.8,270.6,271.4,272.2,273,273.8,274.6,275.4,276.2,277],"labels":false,"tickSize":-3,"title":null}},
"y":{"field":"v","type":"quantitative","axis":{"orient":"left","values":[-1.185,-1.18,-1.175,-1.17,-1.165,-1.16,-1.155,-1.15,-1.145,-1.14,-1.135,-1.13,-1.125,-1.12,-1.115,-1.11,-1.105,-1.1,-1.095],"labels":false,"tickSize":-6,"title":null}}}},
{"data":{"name":"yaw"},"mark":{"type":"line","strokeOpacity":0},
"encoding":{"x":{"field":"t","type":"quantitative","axis":null},
"y":{"field":"v","type":"quantitative","axis":{"orient":"right","values":[-1.18,-1.16,-1.14,-1.12,-1.1],"labels":false,"tickSize":-11,"title":null}}}},
{"data":{"name":"yaw"},"mark":{"type":"line","strokeOpacity":0},
"encoding":{"x":{"field":"t","type":"quantitative","axis":null},
"y":{"field":"v","type":"quantitative","axis":{"orient":"right","values":[-1.185,-1.18,-1.175,-1.17,-1.165,-1.16,-1.155,-1.15,-1.145,-1.14,-1.135,-1.13,-1.125,-1.12,-1.115,-1.11,-1.105,-1.1,-1.095],"labels":false,"tickSize":-6,"title":null}}}},
{"data":{"values":[{}]},"mark":{"type":"text","align":"right","baseline":"alphabetic","fontSize":12.5,"text":"Mean: -1.12751 std dev: 0.0119682"},
"encoding":{"x":{"datum":273.7,"type":"quantitative","axis":null},"y":{"datum":-1.1811,"type":"quantitative","axis":null}}},
{"data":{"values":[{}]},"mark":{"type":"text","align":"left","baseline":"alphabetic","fontSize":16.5,"text":"2016","clip":false},
"encoding":{"x":{"datum":245,"type":"quantitative","axis":null},"y":{"datum":-1.2155,"type":"quantitative","axis":null}}}
]}
]
}
